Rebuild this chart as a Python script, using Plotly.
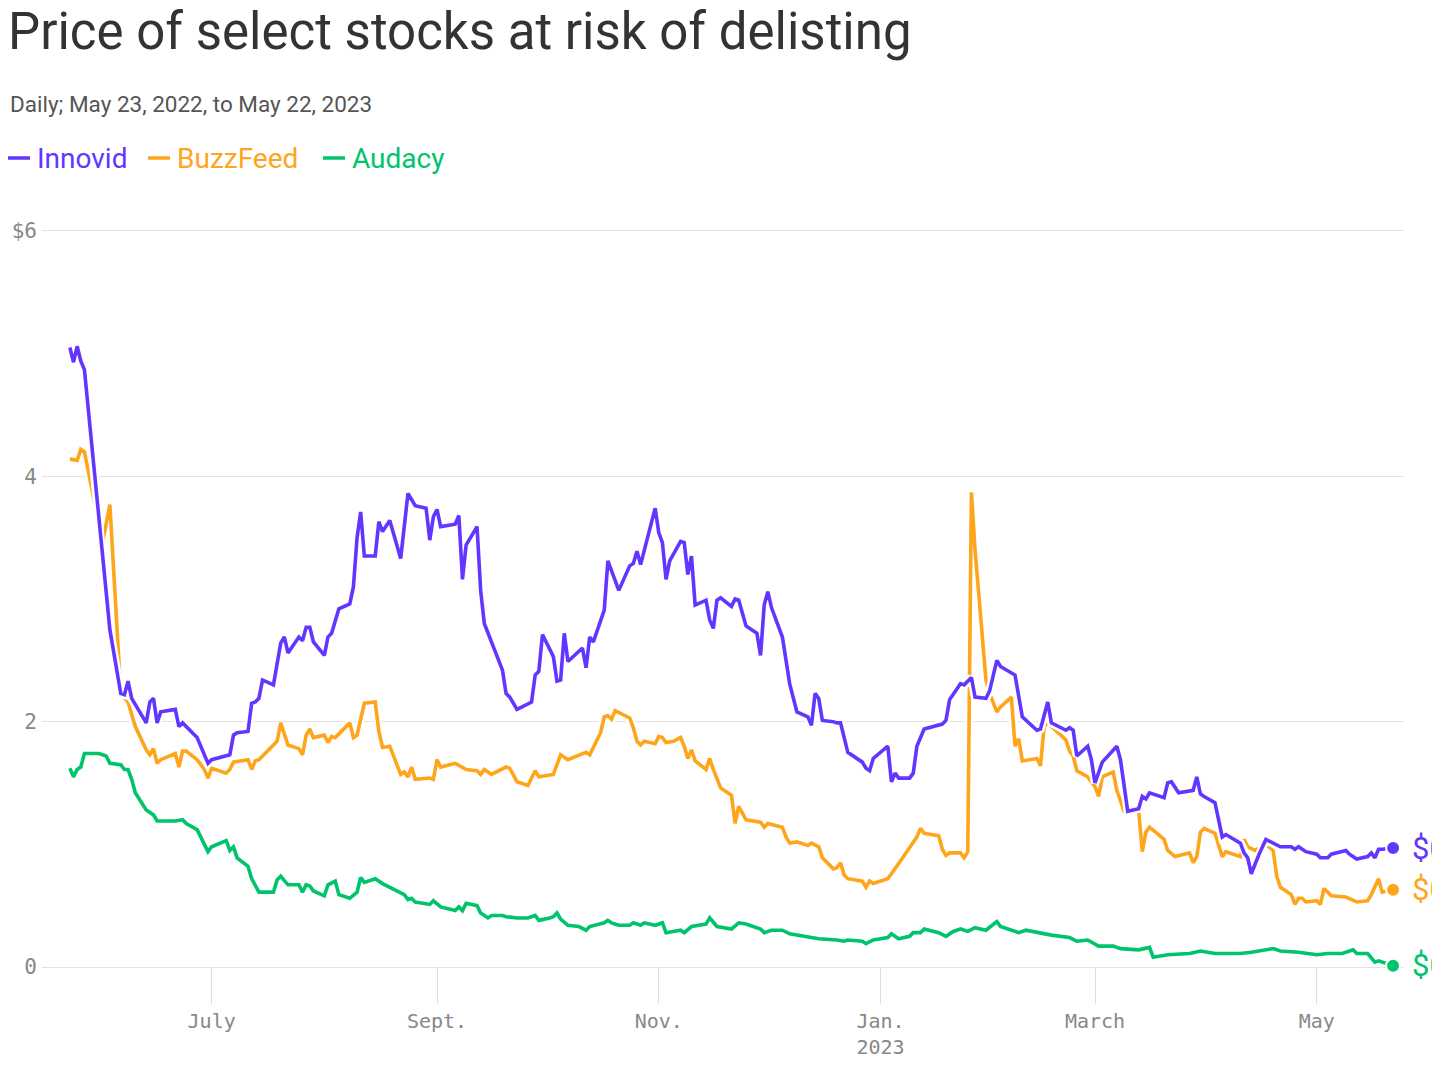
import plotly.graph_objects as go

# ---------------- data ----------------
innovid_dates = [
    "2022-05-23", "2022-05-24", "2022-05-25", "2022-05-26", "2022-05-27", "2022-06-02", "2022-06-03",
    "2022-06-06", "2022-06-07", "2022-06-08", "2022-06-09", "2022-06-13", "2022-06-14", "2022-06-15",
    "2022-06-16", "2022-06-17", "2022-06-21", "2022-06-22", "2022-06-23", "2022-06-27", "2022-06-29",
    "2022-06-30", "2022-07-01", "2022-07-06", "2022-07-07", "2022-07-08", "2022-07-11", "2022-07-12",
    "2022-07-13", "2022-07-14", "2022-07-15", "2022-07-18", "2022-07-20", "2022-07-21", "2022-07-22",
    "2022-07-25", "2022-07-26", "2022-07-27", "2022-07-28", "2022-07-29", "2022-08-01", "2022-08-02",
    "2022-08-03", "2022-08-05", "2022-08-08", "2022-08-09", "2022-08-10", "2022-08-11", "2022-08-12",
    "2022-08-15", "2022-08-16", "2022-08-17", "2022-08-19", "2022-08-22", "2022-08-24", "2022-08-26",
    "2022-08-29", "2022-08-30", "2022-08-31", "2022-09-01", "2022-09-02", "2022-09-06", "2022-09-07",
    "2022-09-08", "2022-09-09", "2022-09-12", "2022-09-13", "2022-09-14", "2022-09-19", "2022-09-20",
    "2022-09-21", "2022-09-23", "2022-09-27", "2022-09-28", "2022-09-29", "2022-09-30", "2022-10-03",
    "2022-10-04", "2022-10-05", "2022-10-06", "2022-10-07", "2022-10-11", "2022-10-12", "2022-10-13",
    "2022-10-14", "2022-10-17", "2022-10-18", "2022-10-21", "2022-10-24", "2022-10-25", "2022-10-26",
    "2022-10-27", "2022-10-31", "2022-11-01", "2022-11-02", "2022-11-03", "2022-11-04", "2022-11-07",
    "2022-11-08", "2022-11-09", "2022-11-10", "2022-11-11", "2022-11-14", "2022-11-15", "2022-11-16",
    "2022-11-17", "2022-11-18", "2022-11-21", "2022-11-22", "2022-11-23", "2022-11-25", "2022-11-28",
    "2022-11-29", "2022-11-30", "2022-12-01", "2022-12-02", "2022-12-05", "2022-12-06", "2022-12-07",
    "2022-12-09", "2022-12-12", "2022-12-13", "2022-12-14", "2022-12-15", "2022-12-16", "2022-12-19",
    "2022-12-20", "2022-12-21", "2022-12-23", "2022-12-27", "2022-12-28", "2022-12-29", "2022-12-30",
    "2023-01-03", "2023-01-04", "2023-01-05", "2023-01-06", "2023-01-09", "2023-01-10", "2023-01-11",
    "2023-01-13", "2023-01-18", "2023-01-19", "2023-01-20", "2023-01-23", "2023-01-24", "2023-01-26",
    "2023-01-27", "2023-01-30", "2023-01-31", "2023-02-02", "2023-02-03", "2023-02-07", "2023-02-09",
    "2023-02-13", "2023-02-14", "2023-02-16", "2023-02-17", "2023-02-21", "2023-02-22", "2023-02-23",
    "2023-02-24", "2023-02-27", "2023-02-28", "2023-03-01", "2023-03-03", "2023-03-07", "2023-03-08",
    "2023-03-09", "2023-03-10", "2023-03-13", "2023-03-14", "2023-03-15", "2023-03-16", "2023-03-20",
    "2023-03-21", "2023-03-22", "2023-03-24", "2023-03-28", "2023-03-29", "2023-03-30", "2023-03-31",
    "2023-04-03", "2023-04-05", "2023-04-06", "2023-04-10", "2023-04-11", "2023-04-12", "2023-04-13",
    "2023-04-15", "2023-04-17", "2023-04-20", "2023-04-21", "2023-04-24", "2023-04-25", "2023-04-26",
    "2023-04-28", "2023-05-01", "2023-05-02", "2023-05-04", "2023-05-05", "2023-05-09", "2023-05-10",
    "2023-05-12", "2023-05-15", "2023-05-16", "2023-05-17", "2023-05-18", "2023-05-19", "2023-05-22",
]
innovid_prices = [
    5.05, 4.93, 5.06, 4.94, 4.87, 2.99, 2.75,
    2.23, 2.22, 2.33, 2.19, 1.99, 2.16, 2.19,
    1.99, 2.08, 2.10, 1.96, 1.99, 1.87, 1.72,
    1.66, 1.69, 1.73, 1.89, 1.91, 1.92, 2.15,
    2.16, 2.19, 2.34, 2.30, 2.64, 2.69, 2.56,
    2.69, 2.66, 2.77, 2.77, 2.65, 2.54, 2.69,
    2.72, 2.92, 2.96, 3.10, 3.50, 3.71, 3.35,
    3.35, 3.63, 3.55, 3.64, 3.33, 3.86, 3.76,
    3.74, 3.48, 3.67, 3.73, 3.59, 3.61, 3.68,
    3.16, 3.44, 3.59, 3.07, 2.80, 2.42, 2.23,
    2.20, 2.10, 2.16, 2.38, 2.41, 2.71, 2.53,
    2.33, 2.34, 2.72, 2.49, 2.60, 2.44, 2.69,
    2.65, 2.91, 3.31, 3.07, 3.27, 3.29, 3.39,
    3.28, 3.74, 3.54, 3.46, 3.16, 3.31, 3.47,
    3.46, 3.20, 3.35, 2.95, 2.99, 2.83, 2.76,
    2.99, 3.01, 2.94, 3.00, 2.99, 2.78, 2.72,
    2.54, 2.95, 3.06, 2.93, 2.69, 2.50, 2.31,
    2.08, 2.04, 1.97, 2.23, 2.19, 2.01, 2.00,
    1.99, 1.99, 1.75, 1.67, 1.62, 1.60, 1.70,
    1.80, 1.51, 1.58, 1.54, 1.54, 1.58, 1.80,
    1.94, 1.98, 2.01, 2.18, 2.31, 2.30, 2.36,
    2.20, 2.19, 2.25, 2.50, 2.45, 2.38, 2.04,
    1.93, 1.94, 2.16, 1.99, 1.93, 1.95, 1.93,
    1.72, 1.80, 1.69, 1.50, 1.67, 1.80, 1.69,
    1.50, 1.27, 1.29, 1.39, 1.37, 1.42, 1.38,
    1.50, 1.51, 1.42, 1.44, 1.55, 1.41, 1.39,
    1.34, 1.06, 1.08, 1.01, 0.93, 0.89, 0.76,
    0.91, 1.04, 0.99, 0.98, 0.98, 0.96, 0.98,
    0.94, 0.92, 0.89, 0.89, 0.92, 0.95, 0.92,
    0.88, 0.90, 0.93, 0.89, 0.96, 0.96, 0.97,
]

buzzfeed_dates = [
    "2022-05-23", "2022-05-25", "2022-05-26", "2022-05-27", "2022-06-01", "2022-06-03", "2022-06-06",
    "2022-06-08", "2022-06-10", "2022-06-13", "2022-06-14", "2022-06-15", "2022-06-16", "2022-06-17",
    "2022-06-21", "2022-06-22", "2022-06-23", "2022-06-24", "2022-06-27", "2022-06-29", "2022-06-30",
    "2022-07-01", "2022-07-05", "2022-07-06", "2022-07-07", "2022-07-11", "2022-07-12", "2022-07-13",
    "2022-07-14", "2022-07-19", "2022-07-20", "2022-07-22", "2022-07-25", "2022-07-26", "2022-07-27",
    "2022-07-28", "2022-07-29", "2022-08-01", "2022-08-02", "2022-08-03", "2022-08-04", "2022-08-05",
    "2022-08-08", "2022-08-09", "2022-08-10", "2022-08-12", "2022-08-15", "2022-08-16", "2022-08-17",
    "2022-08-19", "2022-08-22", "2022-08-23", "2022-08-24", "2022-08-25", "2022-08-26", "2022-08-30",
    "2022-08-31", "2022-09-01", "2022-09-02", "2022-09-06", "2022-09-09", "2022-09-12", "2022-09-13",
    "2022-09-14", "2022-09-16", "2022-09-20", "2022-09-21", "2022-09-23", "2022-09-26", "2022-09-28",
    "2022-09-29", "2022-10-03", "2022-10-05", "2022-10-07", "2022-10-10", "2022-10-12", "2022-10-13",
    "2022-10-16", "2022-10-17", "2022-10-18", "2022-10-19", "2022-10-20", "2022-10-24", "2022-10-25",
    "2022-10-26", "2022-10-27", "2022-10-28", "2022-10-31", "2022-11-01", "2022-11-02", "2022-11-03",
    "2022-11-05", "2022-11-07", "2022-11-08", "2022-11-09", "2022-11-10", "2022-11-11", "2022-11-14",
    "2022-11-15", "2022-11-16", "2022-11-18", "2022-11-21", "2022-11-22", "2022-11-23", "2022-11-25",
    "2022-11-29", "2022-11-30", "2022-12-01", "2022-12-05", "2022-12-06", "2022-12-07", "2022-12-09",
    "2022-12-12", "2022-12-13", "2022-12-15", "2022-12-16", "2022-12-19", "2022-12-20", "2022-12-21",
    "2022-12-22", "2022-12-23", "2022-12-27", "2022-12-28", "2022-12-29", "2022-12-30", "2023-01-03",
    "2023-01-04", "2023-01-05", "2023-01-08", "2023-01-11", "2023-01-12", "2023-01-13", "2023-01-17",
    "2023-01-18", "2023-01-19", "2023-01-20", "2023-01-23", "2023-01-24", "2023-01-25", "2023-01-26",
    "2023-01-27", "2023-01-30", "2023-01-31", "2023-02-02", "2023-02-03", "2023-02-06", "2023-02-07",
    "2023-02-08", "2023-02-09", "2023-02-13", "2023-02-14", "2023-02-15", "2023-02-16", "2023-02-21",
    "2023-02-22", "2023-02-23", "2023-02-24", "2023-02-27", "2023-03-01", "2023-03-02", "2023-03-03",
    "2023-03-06", "2023-03-07", "2023-03-09", "2023-03-10", "2023-03-13", "2023-03-14", "2023-03-15",
    "2023-03-16", "2023-03-20", "2023-03-21", "2023-03-23", "2023-03-27", "2023-03-28", "2023-03-29",
    "2023-03-30", "2023-03-31", "2023-04-03", "2023-04-05", "2023-04-06", "2023-04-10", "2023-04-11",
    "2023-04-12", "2023-04-14", "2023-04-17", "2023-04-19", "2023-04-20", "2023-04-21", "2023-04-24",
    "2023-04-25", "2023-04-26", "2023-04-27", "2023-04-28", "2023-05-01", "2023-05-02", "2023-05-03",
    "2023-05-05", "2023-05-09", "2023-05-12", "2023-05-15", "2023-05-16", "2023-05-18", "2023-05-19",
    "2023-05-22",
]
buzzfeed_prices = [
    4.14, 4.13, 4.22, 4.20, 3.46, 3.77, 2.23,
    2.16, 1.96, 1.77, 1.73, 1.78, 1.66, 1.69,
    1.74, 1.63, 1.76, 1.76, 1.69, 1.61, 1.54,
    1.62, 1.58, 1.61, 1.67, 1.69, 1.61, 1.68,
    1.69, 1.84, 1.99, 1.81, 1.78, 1.73, 1.89,
    1.94, 1.87, 1.89, 1.83, 1.88, 1.87, 1.90,
    1.99, 1.87, 1.89, 2.15, 2.16, 1.92, 1.79,
    1.80, 1.57, 1.59, 1.55, 1.63, 1.53, 1.54,
    1.53, 1.69, 1.63, 1.66, 1.61, 1.60, 1.57,
    1.61, 1.57, 1.63, 1.62, 1.51, 1.48, 1.60,
    1.55, 1.57, 1.73, 1.69, 1.73, 1.75, 1.73,
    1.91, 2.04, 2.05, 2.02, 2.09, 2.03, 1.95,
    1.84, 1.81, 1.84, 1.82, 1.88, 1.87, 1.83,
    1.84, 1.87, 1.80, 1.70, 1.77, 1.68, 1.61,
    1.70, 1.61, 1.46, 1.40, 1.17, 1.31, 1.20,
    1.18, 1.14, 1.17, 1.14, 1.06, 1.01, 1.02,
    0.99, 1.01, 0.98, 0.89, 0.80, 0.81, 0.85,
    0.75, 0.72, 0.70, 0.65, 0.70, 0.68, 0.72,
    0.76, 0.80, 0.93, 1.06, 1.13, 1.09, 1.07,
    0.96, 0.91, 0.93, 0.93, 0.89, 0.94, 3.87,
    3.40, 2.34, 2.23, 2.08, 2.12, 2.20, 1.80,
    1.86, 1.68, 1.70, 1.64, 1.96, 1.99, 1.85,
    1.76, 1.72, 1.60, 1.55, 1.47, 1.39, 1.55,
    1.59, 1.44, 1.27, 1.27, 1.28, 0.94, 1.10,
    1.14, 1.04, 0.95, 0.90, 0.93, 0.85, 0.90,
    1.10, 1.13, 1.09, 0.90, 0.94, 0.90, 1.04,
    0.98, 0.95, 1.00, 0.95, 0.74, 0.65, 0.59,
    0.51, 0.56, 0.56, 0.53, 0.54, 0.51, 0.64,
    0.58, 0.57, 0.53, 0.54, 0.59, 0.72, 0.61,
    0.63,
]

audacy_dates = [
    "2022-05-23", "2022-05-24", "2022-05-25", "2022-05-26", "2022-05-27", "2022-05-31", "2022-06-02",
    "2022-06-03", "2022-06-06", "2022-06-07", "2022-06-08", "2022-06-09", "2022-06-10", "2022-06-13",
    "2022-06-15", "2022-06-16", "2022-06-21", "2022-06-23", "2022-06-24", "2022-06-27", "2022-06-29",
    "2022-06-30", "2022-07-01", "2022-07-05", "2022-07-06", "2022-07-07", "2022-07-08", "2022-07-11",
    "2022-07-12", "2022-07-14", "2022-07-18", "2022-07-19", "2022-07-20", "2022-07-22", "2022-07-25",
    "2022-07-26", "2022-07-27", "2022-07-28", "2022-07-29", "2022-08-01", "2022-08-02", "2022-08-04",
    "2022-08-05", "2022-08-08", "2022-08-10", "2022-08-11", "2022-08-12", "2022-08-15", "2022-08-17",
    "2022-08-19", "2022-08-23", "2022-08-24", "2022-08-25", "2022-08-26", "2022-08-29", "2022-08-30",
    "2022-08-31", "2022-09-01", "2022-09-02", "2022-09-06", "2022-09-07", "2022-09-08", "2022-09-09",
    "2022-09-12", "2022-09-13", "2022-09-15", "2022-09-16", "2022-09-19", "2022-09-20", "2022-09-23",
    "2022-09-26", "2022-09-28", "2022-09-29", "2022-10-02", "2022-10-03", "2022-10-04", "2022-10-05",
    "2022-10-07", "2022-10-10", "2022-10-12", "2022-10-13", "2022-10-17", "2022-10-18", "2022-10-19",
    "2022-10-21", "2022-10-24", "2022-10-25", "2022-10-27", "2022-10-28", "2022-10-31", "2022-11-02",
    "2022-11-03", "2022-11-07", "2022-11-08", "2022-11-10", "2022-11-14", "2022-11-15", "2022-11-17",
    "2022-11-21", "2022-11-23", "2022-11-25", "2022-11-29", "2022-11-30", "2022-12-02", "2022-12-05",
    "2022-12-07", "2022-12-09", "2022-12-12", "2022-12-15", "2022-12-20", "2022-12-22", "2022-12-23",
    "2022-12-27", "2022-12-28", "2022-12-30", "2023-01-03", "2023-01-04", "2023-01-06", "2023-01-09",
    "2023-01-10", "2023-01-12", "2023-01-13", "2023-01-17", "2023-01-19", "2023-01-21", "2023-01-23",
    "2023-01-25", "2023-01-27", "2023-01-30", "2023-02-02", "2023-02-03", "2023-02-08", "2023-02-10",
    "2023-02-17", "2023-02-22", "2023-02-24", "2023-02-27", "2023-03-02", "2023-03-06", "2023-03-08",
    "2023-03-13", "2023-03-16", "2023-03-17", "2023-03-21", "2023-03-27", "2023-03-30", "2023-04-03",
    "2023-04-10", "2023-04-13", "2023-04-19", "2023-04-21", "2023-04-26", "2023-05-01", "2023-05-04",
    "2023-05-08", "2023-05-11", "2023-05-12", "2023-05-15", "2023-05-17", "2023-05-18", "2023-05-19",
    "2023-05-22",
]
audacy_prices = [
    1.62, 1.55, 1.61, 1.63, 1.74, 1.74, 1.72,
    1.66, 1.65, 1.61, 1.61, 1.53, 1.42, 1.28,
    1.24, 1.19, 1.19, 1.20, 1.17, 1.12, 1.00,
    0.94, 0.98, 1.03, 0.95, 0.98, 0.89, 0.82,
    0.72, 0.61, 0.61, 0.71, 0.74, 0.67, 0.67,
    0.61, 0.67, 0.66, 0.62, 0.58, 0.67, 0.70,
    0.59, 0.56, 0.61, 0.73, 0.69, 0.72, 0.68,
    0.65, 0.59, 0.55, 0.56, 0.53, 0.52, 0.51,
    0.54, 0.51, 0.49, 0.46, 0.49, 0.46, 0.52,
    0.50, 0.44, 0.40, 0.42, 0.42, 0.41, 0.40,
    0.40, 0.42, 0.38, 0.40, 0.41, 0.44, 0.39,
    0.34, 0.33, 0.30, 0.33, 0.36, 0.38, 0.36,
    0.34, 0.34, 0.36, 0.34, 0.36, 0.34, 0.36,
    0.28, 0.30, 0.28, 0.33, 0.35, 0.40, 0.33,
    0.31, 0.36, 0.35, 0.31, 0.28, 0.30, 0.30,
    0.27, 0.26, 0.25, 0.23, 0.22, 0.21, 0.22,
    0.21, 0.19, 0.22, 0.24, 0.27, 0.23, 0.25,
    0.28, 0.28, 0.31, 0.28, 0.25, 0.29, 0.31,
    0.29, 0.32, 0.30, 0.37, 0.33, 0.28, 0.30,
    0.26, 0.24, 0.21, 0.22, 0.17, 0.17, 0.15,
    0.14, 0.16, 0.08, 0.10, 0.11, 0.13, 0.11,
    0.11, 0.12, 0.15, 0.13, 0.12, 0.10, 0.11,
    0.11, 0.14, 0.11, 0.11, 0.04, 0.05, 0.04,
    0.01,
]

tick_dates = ["2022-07-01", "2022-09-01", "2022-11-01", "2023-01-01", "2023-03-01", "2023-05-01"]
tick_labels = ["July", "Sept.", "Nov.", "Jan.<br>2023", "March", "May"]
y_ticks = [0, 2, 4, 6]
y_tick_labels = ["0", "2", "4", "$6"]

title_text = "Price of select stocks at risk of delisting"
subtitle_text = "Daily; May 23, 2022, to May 22, 2023"

# ---------------- styling ----------------
PURPLE = "#6236ff"
ORANGE = "#ffa51c"
GREEN = "#00c46c"

OFF = 8                      # the page body margin that offsets the figure in the window
W, H = 1440 - OFF, 1080 - OFF
L, R, T, B = 34, 36, 221, 113


def px_x(px):
    return (px - OFF - L) / (W - L - R)


def px_y(py):
    return (H - B - (py - OFF)) / (H - T - B)


series = [
    ("Audacy", audacy_dates, audacy_prices, GREEN),
    ("BuzzFeed", buzzfeed_dates, buzzfeed_prices, ORANGE),
    ("Innovid", innovid_dates, innovid_prices, PURPLE),
]

fig = go.Figure()
for name, d, v, c in series:
    fig.add_trace(go.Scatter(x=d, y=v, mode="lines", line=dict(color="white", width=8.5),
                             hoverinfo="skip", showlegend=False))
    fig.add_trace(go.Scatter(x=d, y=v, mode="lines", name=name,
                             line=dict(color=c, width=3.6), showlegend=False))

annotations = []
for name, d, v, c in series:
    fig.add_trace(go.Scatter(x=[d[-1]], y=[v[-1]], mode="markers",
                             marker=dict(color=c, size=14, line=dict(color="white", width=2)),
                             cliponaxis=False, showlegend=False, hoverinfo="skip"))
    annotations.append(dict(xref="paper", yref="y", x=px_x(1410), y=v[-1],
                            text=f"${v[-1]:.2f}", showarrow=False, xanchor="left", yanchor="middle",
                            font=dict(family="Roboto", size=31, color=c)))

# subtitle
annotations.append(dict(xref="paper", yref="paper", x=px_x(OFF), y=px_y(104), text=subtitle_text,
                        showarrow=False, xanchor="left", yanchor="middle",
                        font=dict(family="Roboto", size=22.5, color="#555555")))

# custom legend
shapes = []
legend_items = [("Innovid", PURPLE, 0), ("BuzzFeed", ORANGE, 140), ("Audacy", GREEN, 315)]
for name, c, x0 in legend_items:
    shapes.append(dict(type="line", xref="paper", yref="paper", x0=px_x(x0 + OFF), x1=px_x(x0 + OFF + 22),
                       y0=px_y(158), y1=px_y(158), line=dict(color=c, width=3.5)))
    annotations.append(dict(xref="paper", yref="paper", x=px_x(x0 + OFF + 27), y=px_y(158), text=name,
                            showarrow=False, xanchor="left", yanchor="middle",
                            font=dict(family="Roboto", size=28, color=c)))

mono = "DejaVu Sans Mono"
fig.update_layout(
    width=W, height=H,
    margin=dict(l=L, r=R, t=T, b=B, autoexpand=False),
    paper_bgcolor="white", plot_bgcolor="white",
    title=dict(text=title_text, x=0, xref="container", xanchor="left",
               y=1 - 5 / H, yref="container", yanchor="top",
               font=dict(family="Roboto", size=51, color="#333333")),
    xaxis=dict(type="date", range=["2022-05-15 08:00", "2023-05-25 00:00"],
               tickvals=tick_dates, ticktext=tick_labels, automargin=False,
               ticks="outside", ticklen=36, tickcolor="#dddddd", tickwidth=1,
               showgrid=False, zeroline=False, showline=False,
               tickfont=dict(family=mono, size=20, color="#888888")),
    yaxis=dict(range=[0, 6.016], tickvals=y_ticks, ticktext=y_tick_labels, automargin=False,
               showgrid=True, gridcolor="#e2e2e2", gridwidth=1,
               zeroline=True, zerolinecolor="#e2e2e2", zerolinewidth=1,
               showline=False, ticks="", ticklabelstandoff=4,
               tickfont=dict(family=mono, size=21, color="#888888")),
    annotations=annotations,
    shapes=shapes,
    showlegend=False,
    hovermode=False,
)

fig.write_html("out.html")
